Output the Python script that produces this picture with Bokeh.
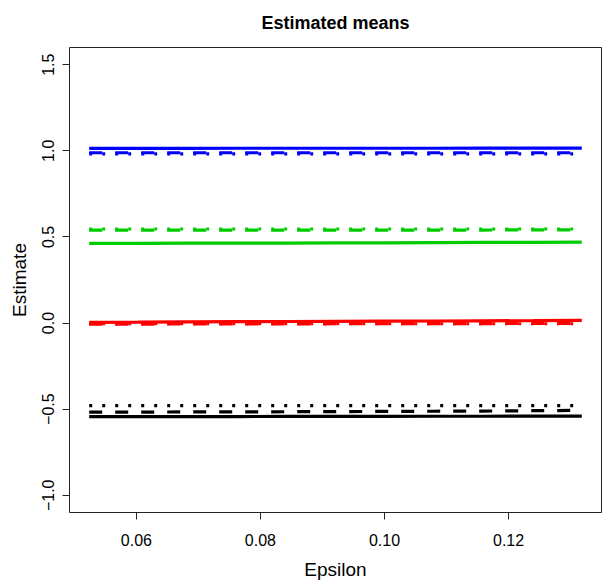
from bokeh.plotting import figure
from bokeh.models import Range1d, FixedTicker
from bokeh.embed import file_html
from bokeh.resources import INLINE

# ---- data ----
epsilon = [0.0524, 0.0603, 0.0683, 0.0762, 0.0842, 0.0921, 0.1000, 0.1080, 0.1159, 0.1239, 0.1318]

blue_solid   = [1.014, 1.014, 1.014, 1.015, 1.015, 1.015, 1.015, 1.015, 1.016, 1.016, 1.016]
blue_dashed  = [0.989, 0.989, 0.989, 0.989, 0.989, 0.989, 0.989, 0.989, 0.989, 0.989, 0.989]
blue_dotted  = [0.982, 0.982, 0.982, 0.982, 0.982, 0.982, 0.982, 0.982, 0.982, 0.982, 0.982]

green_dashed = [0.540, 0.540, 0.540, 0.540, 0.540, 0.540, 0.540, 0.540, 0.540, 0.541, 0.541]
green_dotted = [0.546, 0.546, 0.546, 0.546, 0.546, 0.546, 0.546, 0.546, 0.546, 0.546, 0.546]
green_solid  = [0.463, 0.463, 0.464, 0.464, 0.464, 0.465, 0.465, 0.467, 0.468, 0.469, 0.470]

red_solid    = [0.004, 0.005, 0.007, 0.008, 0.009, 0.010, 0.011, 0.012, 0.013, 0.014, 0.016]
red_dashed   = [-0.006, -0.006, -0.005, -0.005, -0.005, -0.004, -0.004, -0.003, -0.003, -0.002, -0.002]
red_dotted   = [-0.004, -0.004, -0.004, -0.004, -0.004, -0.004, -0.004, -0.004, -0.004, -0.004, -0.004]

black_dotted = [-0.480, -0.480, -0.480, -0.480, -0.480, -0.480, -0.480, -0.480, -0.480, -0.480, -0.480]
black_dashed = [-0.517, -0.517, -0.516, -0.516, -0.515, -0.514, -0.513, -0.512, -0.511, -0.509, -0.507]
black_solid  = [-0.543, -0.543, -0.543, -0.543, -0.542, -0.542, -0.542, -0.541, -0.541, -0.540, -0.540]

x_ticks = [0.06, 0.08, 0.10, 0.12]
x_tick_labels = ["0.06", "0.08", "0.10", "0.12"]
y_ticks = [-1.0, -0.5, 0.0, 0.5, 1.0, 1.5]
y_tick_labels = ["\u22121.0", "\u22120.5", "0.0", "0.5", "1.0", "1.5"]

FONT = "Liberation Sans"
BLUE, GREEN, RED, BLACK = "#0000FF", "#00CD00", "#FF0000", "#000000"

xmin, xmax = min(epsilon), max(epsilon)
xpad = 0.04 * (xmax - xmin)
ylo, yhi = -1.0, 1.5
ypad = 0.04 * (yhi - ylo)

p = figure(
    width=604, height=577,
    frame_width=532, frame_height=465,
    min_border_left=69, min_border_right=3, min_border_top=47, min_border_bottom=65,
    x_range=Range1d(xmin - xpad, xmax + xpad),
    y_range=Range1d(ylo - ypad, yhi + ypad),
    output_backend="svg", toolbar_location=None,
    title="Estimated means",
)
p.background_fill_color = "white"
p.border_fill_color = "white"
p.outline_line_color = "#222222"
p.outline_line_width = 1
p.xgrid.visible = False
p.ygrid.visible = False

p.title.align = "center"
p.title.vertical_align = "top"
p.title.text_font = FONT
p.title.text_font_size = "18px"
p.title.text_font_style = "bold"
p.title.text_color = "black"
p.title.standoff = 25

for ax in (p.xaxis[0], p.yaxis[0]):
    ax.axis_line_color = None
    ax.major_tick_in = 0
    ax.major_tick_out = 7
    ax.major_tick_line_color = "#222222"
    ax.minor_tick_line_color = None
    ax.major_label_text_font = FONT
    ax.major_label_text_font_size = "16px"
    ax.major_label_text_color = "black"
    ax.axis_label_text_font = FONT
    ax.axis_label_text_font_size = "19px"
    ax.axis_label_text_font_style = "normal"
    ax.axis_label_text_color = "black"

p.xaxis[0].ticker = FixedTicker(ticks=x_ticks)
p.xaxis[0].major_label_overrides = {t: l for t, l in zip(x_ticks, x_tick_labels)}
p.xaxis[0].axis_label = "Epsilon"
p.xaxis[0].major_label_standoff = 14
p.xaxis[0].axis_label_standoff = 10

p.yaxis[0].ticker = FixedTicker(ticks=y_ticks)
p.yaxis[0].major_label_overrides = {t: l for t, l in zip(y_ticks, y_tick_labels)}
p.yaxis[0].major_label_orientation = "vertical"
p.yaxis[0].axis_label = "Estimate"
p.yaxis[0].major_label_standoff = 8
p.yaxis[0].axis_label_standoff = 10

series = [
    (blue_dashed, BLUE, "13 13"), (blue_dotted, BLUE, "3 10"), (blue_solid, BLUE, None),
    (green_dashed, GREEN, "13 13"), (green_dotted, GREEN, "3 10"), (green_solid, GREEN, None),
    (red_dashed, RED, "13 13"), (red_dotted, RED, "3 10"), (red_solid, RED, None),
    (black_dashed, BLACK, "13 13"), (black_dotted, BLACK, "3 10"), (black_solid, BLACK, None),
]
for ys, col, dash in series:
    kw = dict(line_color=col, line_width=3.2)
    if dash:
        kw["line_dash"] = dash
    p.line(epsilon, ys, **kw)

open("out.html", "w").write(file_html(p, INLINE))
